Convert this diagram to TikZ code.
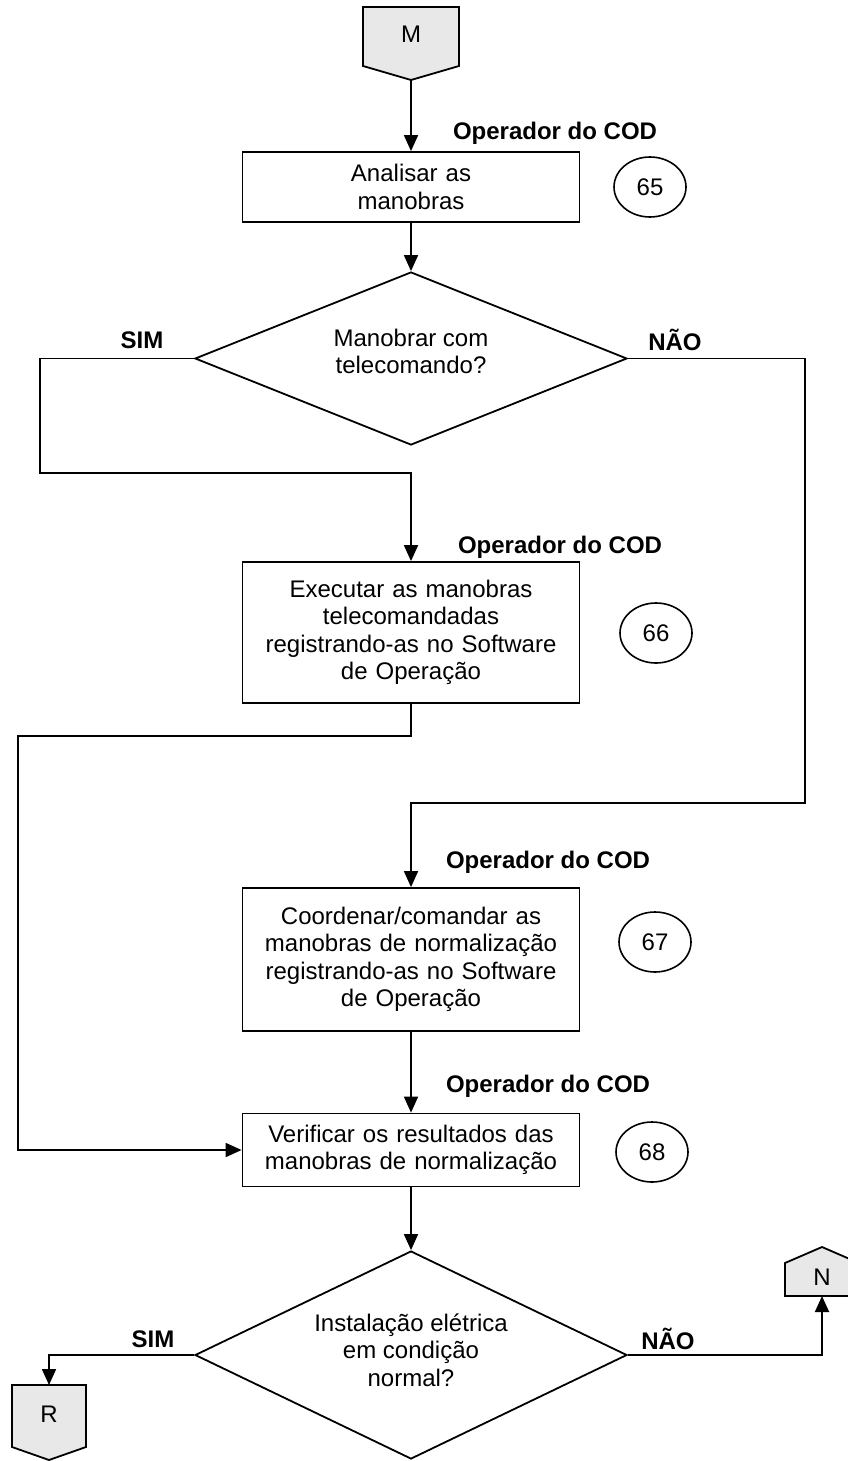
\documentclass[tikz,border=0pt]{standalone}
\usepackage{fontspec}
\setmainfont{Liberation Sans}
\usetikzlibrary{shapes.geometric,arrows.meta}
\definecolor{connfill}{HTML}{E8E8E8}
\begin{document}
\begin{tikzpicture}[x=1pt,y=-1pt,
  base/.style={font=\fontsize{24}{27.5}\selectfont},
  proc/.style={base,draw,line width=1.8pt,minimum width=337pt,inner sep=0pt,text width=330pt,align=center},
  dec/.style={draw,diamond,line width=1.8pt,minimum width=432pt,inner sep=0pt,aspect=2.5},
  dectext/.style={base,align=center,inner sep=0pt},
  num/.style={base,draw,ellipse,line width=1.6pt,minimum width=72pt,minimum height=60pt,inner sep=0pt},
  role/.style={font=\fontsize{24}{27.5}\selectfont\bfseries},
  arr/.style={line width=1.8pt,-{Triangle[length=16pt,width=14pt]}},
  connshape/.style={draw,line width=1.8pt,fill=connfill,line join=miter}]
\useasboundingbox (0,0) rectangle (848,1461);

% off-page connectors
\draw[connshape] (363,7) -- (459,7) -- (459,66) -- (411,80) -- (363,66) -- cycle;
\coordinate (Mtip) at (411,80);
\node[base] (M) at (411,34) {M};

\draw[connshape] (12,1385) -- (86,1385) -- (86,1447) -- (49,1460) -- (12,1447) -- cycle;
\coordinate (Rtop) at (49,1385);
\node[base] (R) at (49,1414) {R};

\draw[connshape] (785,1296) -- (859,1296) -- (859,1263) -- (822,1247) -- (785,1263) -- cycle;
\coordinate (Nbot) at (822,1296);
\node[base] (N) at (822,1277) {N};

% process boxes
\node[proc,minimum height=70pt] (b1) at (411,187) {Analisar as\\manobras};
\node[role] (r1) at (555,133) {Operador do COD};
\node[num] (n65) at (650,187) {65};

\node[dec,minimum height=173pt] (d1) at (411,358.5) {};
\node[dectext] (d1t) at ([yshift=7pt]d1.center) {Manobrar com\\telecomando?};
\node[role] (sim1) at (142,340) {SIM};
\node[role] (nao1) at (675,340) {NÃO};

\node[proc,minimum height=141pt] (b2) at (411,632.5) {Executar as manobras\\telecomandadas\\registrando-as no Software\\de Operação};
\node[role] (r2) at (560,547) {Operador do COD};
\node[num] (n66) at (656,633) {66};

\node[proc,minimum height=143pt] (b3) at (411,959.5) {Coordenar/comandar as\\manobras de normalização\\registrando-as no Software\\de Operação};
\node[role] (r3) at (548,862) {Operador do COD};
\node[num] (n67) at (655,942) {67};

\node[proc,minimum height=73pt] (b4) at (411,1150) {Verificar os resultados das\\manobras de normalização};
\node[role] (r4) at (548,1086) {Operador do COD};
\node[num] (n68) at (652,1152) {68};

\node[dec,minimum height=208pt] (d2) at (411,1355) {};
\node[dectext] (d2t) at ([yshift=5pt]d2.center) {Instalação elétrica\\em condição\\normal?};
\node[role] (sim2) at (153,1339) {SIM};
\node[role] (nao2) at (668,1339) {NÃO};

% connectors
\draw[arr] (Mtip) -- (b1.north);
\draw[arr] (b1.south) -- (d1.north);
\draw[arr] (d1.west) -- (40,358.5) -- (40,473) -| (b2.north);
\draw[arr] (d1.east) -- (805,358.5) -- (805,803) -| (b3.north);
\draw[arr] (b2.south) -- (411,736) -- (18,736) |- (b4.west);
\draw[arr] (b3.south) -- (b4.north);
\draw[arr] (b4.south) -- (d2.north);
\draw[arr] (d2.west) -| (Rtop);
\draw[arr] (d2.east) -| (Nbot);
\end{tikzpicture}
\end{document}
